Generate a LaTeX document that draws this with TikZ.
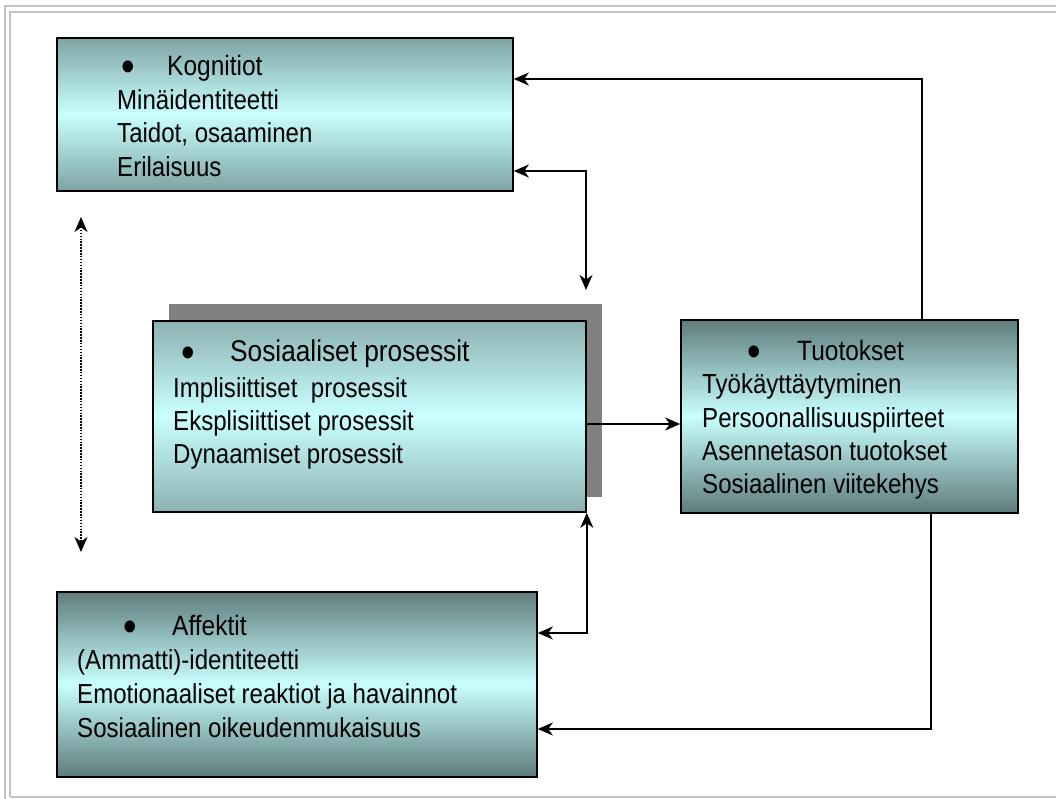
\documentclass[tikz,border=0pt]{standalone}
\usepackage{fontspec}
\setmainfont{Liberation Sans}[FakeStretch=0.875]
\usetikzlibrary{arrows.meta,calc}

\definecolor{framegray}{HTML}{C4C4C4}
\definecolor{shadowgray}{HTML}{808080}
\definecolor{cyanlight}{HTML}{C9FFFF}
\definecolor{tealmid}{HTML}{7FA3A3}
\definecolor{tealsoft}{HTML}{8DB1B1}
\definecolor{tealdark}{HTML}{5E7C7C}

\begin{document}
\begin{tikzpicture}[x=1pt,y=1pt,
  >={Stealth[length=15pt,width=13pt,inset=4.5pt]},
  % vertical gradient built from thin bands: #1 at top and bottom, light cyan in the middle
  bandfill/.style={path picture={
    \foreach \i in {0,...,59}{
      \pgfmathsetmacro{\shadepct}{abs(\i+0.5-30)/30*100}
      \fill[#1!\shadepct!cyanlight]
        ($(path picture bounding box.north west)!{\i/60}!(path picture bounding box.south west)$)
        rectangle
        ($(path picture bounding box.north east)!{(\i+1.1)/60}!(path picture bounding box.south east)$);
    }}},
  box/.style={draw=black, line width=1.6pt, rectangle, inner sep=0pt},
  midbox/.style={box, bandfill=tealmid},
  softbox/.style={box, bandfill=tealsoft},
  darkbox/.style={box, bandfill=tealdark},
  link/.style={draw=black, line width=1.8pt},
  dotlink/.style={draw=black, line width=1.5pt, dash pattern=on 1.5pt off 1.4pt},
  txt/.style={inner sep=0pt, anchor=base west, font=\fontsize{27.5}{33}\selectfont},
  head/.style={inner sep=0pt, anchor=base west, font=\fontsize{28}{33}\selectfont},
  bighead/.style={inner sep=0pt, anchor=base west, font=\fontsize{30}{36}\selectfont},
  dot/.style={inner sep=0pt, anchor=base, font=\fontsize{44}{46}\selectfont}
]
\useasboundingbox (0,-799) rectangle (1056,0);

% page frame
\draw[framegray, line width=2pt] (5,-799) -- (5,-6) -- (1056,-6);
\draw[framegray, line width=2pt] (10,-797) -- (10,-12) -- (1056,-12);
\draw[framegray, line width=2pt] (10,-797) -- (1056,-797);

% boxes
\node[midbox, minimum width=456pt, minimum height=153pt] (kog) at (285,-114.5) {};
\node[fill=shadowgray, inner sep=0pt, minimum width=433pt, minimum height=193pt] (socshadow) at (385.5,-400.5) {};
\node[softbox, minimum width=433pt, minimum height=191pt] (soc) at (369.5,-416.5) {};
\node[darkbox, minimum width=337pt, minimum height=193pt] (tuo) at (849.5,-416.5) {};
\node[darkbox, minimum width=480pt, minimum height=185pt] (aff) at (297,-684.5) {};

% Kognitiot
\node[dot] (kogb) at (128,-82) {\smash{•}};
\node[head] (kog0) at (167,-76) {Kognitiot};
\node[txt] (kog1) at (117,-110) {Minäidentiteetti};
\node[txt] (kog2) at (117,-143) {Taidot, osaaminen};
\node[txt] (kog3) at (117,-177) {Erilaisuus};

% Sosiaaliset prosessit
\node[dot] (socb) at (188,-367) {\smash{•}};
\node[bighead] (soc0) at (230,-361) {Sosiaaliset prosessit};
\node[txt] (soc1) at (173,-397) {Implisiittiset\ \ prosessit};
\node[txt] (soc2) at (173,-430) {Eksplisiittiset prosessit};
\node[txt] (soc3) at (173,-463) {Dynaamiset prosessit};

% Tuotokset
\node[dot] (tuob) at (754,-366) {\smash{•}};
\node[head] (tuo0) at (797,-360) {Tuotokset};
\node[txt] (tuo1) at (702,-393) {Työkäyttäytyminen};
\node[txt] (tuo2) at (702,-427) {Persoonallisuuspiirteet};
\node[txt] (tuo3) at (702,-460) {Asennetason tuotokset};
\node[txt] (tuo4) at (702,-493) {Sosiaalinen viitekehys};

% Affektit
\node[dot] (affb) at (130,-641) {\smash{•}};
\node[head] (aff0) at (172,-635) {Affektit};
\node[txt] (aff1) at (77,-669) {(Ammatti)-identiteetti};
\node[txt] (aff2) at (77,-703) {Emotionaaliset reaktiot ja havainnot};
\node[txt] (aff3) at (77,-737) {Sosiaalinen oikeudenmukaisuus};

% connector routing points
\coordinate (upY) at (922,-79);
\coordinate (kogY) at (586,-171);
\coordinate (kogEnd) at (586,-290);
\coordinate (midY) at (0,-424);
\coordinate (affY) at (586,-633);
\coordinate (lowY) at (931,-729);
\coordinate (dotTop) at (81,-217);
\coordinate (dotBot) at (81,-552);

% connectors
\draw[link, ->] (tuo.north -| upY) |- (kog.east |- upY);
\draw[link, <->] (kog.east |- kogY) -| (kogEnd);
\draw[link, ->] (soc.east |- midY) -- (tuo.west |- midY);
\draw[link, <->] (soc.south east) |- (aff.east |- affY);
\draw[link, ->] (tuo.south -| lowY) |- (aff.east |- lowY);
\draw[dotlink, <->] (dotTop) -- (dotBot);
\end{tikzpicture}
\end{document}
